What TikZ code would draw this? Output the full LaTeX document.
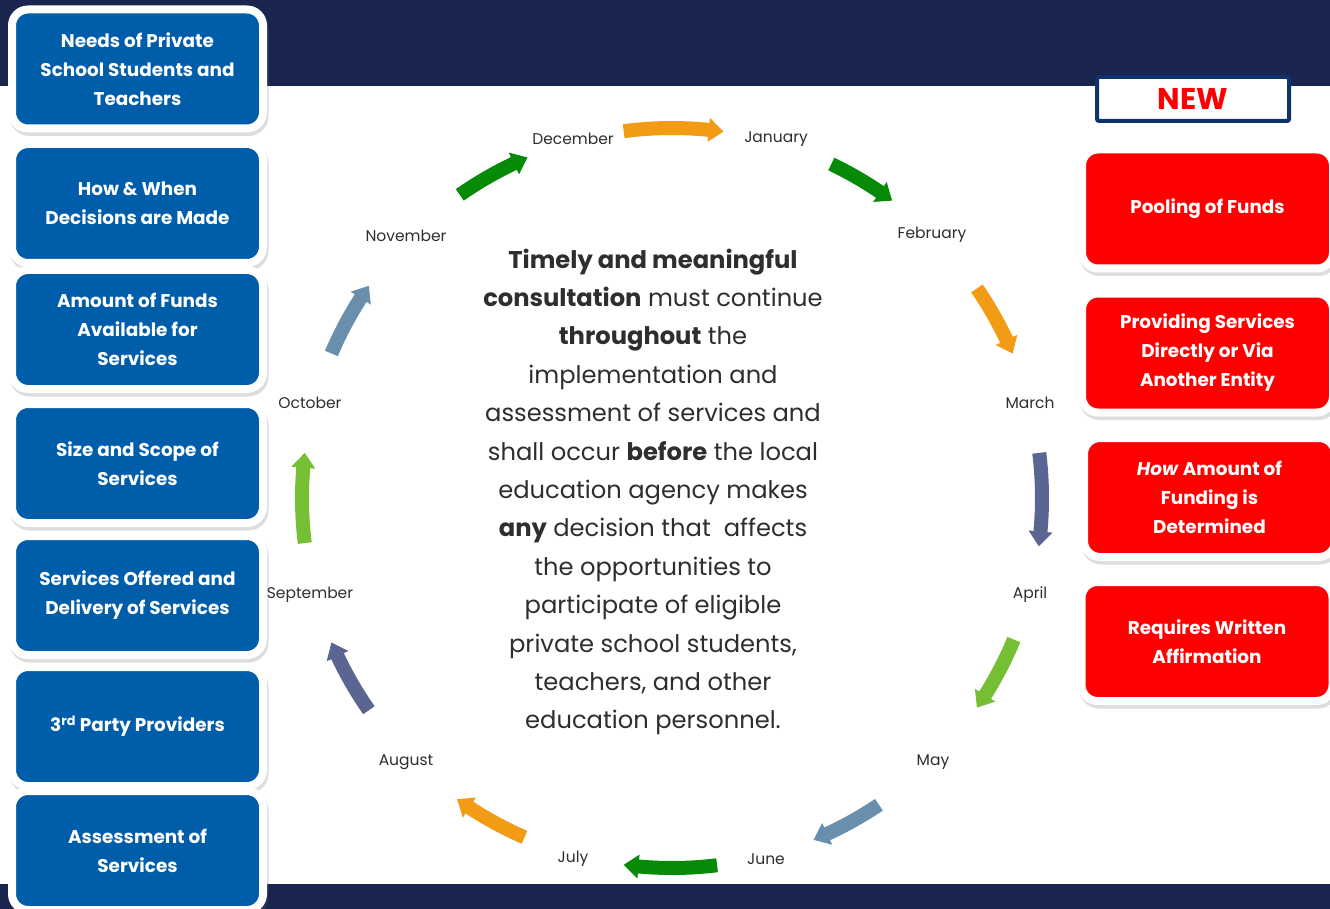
\documentclass[tikz,border=0pt]{standalone}
\usepackage{fontspec}
\setmainfont{Poppins}
\usetikzlibrary{shadows}
\definecolor{navy}{HTML}{19254F}
\definecolor{boxblue}{HTML}{005DAA}
\definecolor{boxred}{HTML}{FF0000}
\definecolor{newborder}{HTML}{10326A}
\definecolor{cgreen}{HTML}{078A07}
\definecolor{corange}{HTML}{F29B14}
\definecolor{cslate}{HTML}{5A6591}
\definecolor{clime}{HTML}{76BE33}
\definecolor{csteel}{HTML}{6A8FAD}
\definecolor{txtgray}{HTML}{2E2E2E}
\begin{document}
\begin{tikzpicture}[x=1pt,y=-1pt,
  cardbox/.style={rounded corners=16pt, draw=white, line width=8pt,
    minimum width=251pt, minimum height=119pt, inner sep=0pt,
    text=white, align=center, font=\bfseries\fontsize{18.4}{29}\selectfont,
    drop shadow={shadow xshift=1.5pt, shadow yshift=-3.5pt, opacity=0.22,
      fill=black!60, draw=black!60, line width=8pt}},
  lbox/.style={cardbox, fill=boxblue},
  rbox/.style={cardbox, fill=boxred},
  month/.style={text=txtgray, font=\fontsize{15.5}{19}\selectfont, inner sep=0pt},
  maintext/.style={text=txtgray, align=center, font=\fontsize{24.2}{38.4}\selectfont, inner sep=0pt},
  newbox/.style={draw=newborder, line width=4pt, fill=white, rounded corners=2pt,
    minimum width=192pt, minimum height=44pt, inner sep=0pt,
    text=boxred, font=\bfseries\fontsize{30}{32}\selectfont}
]
\useasboundingbox (0,0) rectangle (1330,909);
\clip (0,0) rectangle (1330,909);
\fill[white] (0,0) rectangle (1330,909);
\fill[navy] (0,0) rectangle (1330,86);
\fill[navy] (0,884) rectangle (1330,909);

\coordinate (C) at (672,498);

% curved arrows of the year cycle (visual start/end angles, clockwise)
\foreach \aa/\ab/\col in {125/113/cgreen, 97.5/82/corange, 64.5/53.5/cgreen,
    34.5/23/corange, 7/-7.5/cslate, -22.5/-34.5/clime, -56/-67.5/csteel,
    -83/-97.5/cgreen, -113.5/-125.5/corange, -145/-157/cslate,
    -173/-187/clime, 157/145/csteel} {
  \pgfmathsetmacro\pa{-(\aa)}
  \pgfmathsetmacro\pb{-(\ab)}
  \pgfmathsetmacro\ph{-(\ab+2.3)}
  \fill[\col, shift={(C)}] (\pa:377) arc[start angle=\pa, end angle=\ph, radius=377]
    -- (\ph:382) -- (\pb:370) -- (\ph:358) -- (\ph:363)
    arc[start angle=\ph, end angle=\pa, radius=363] -- cycle;
}

\node[month] (dec) at (573,139) {December};
\node[month] (jan) at (776,139) {January};
\node[month] (feb) at (932,235) {February};
\node[month] (mar) at (1030,403) {March};
\node[month] (apr) at (1030,595) {April};
\node[month] (may) at (933,762) {May};
\node[month] (jun) at (766,859) {June};
\node[month] (jul) at (573,859) {July};
\node[month] (aug) at (406,762) {August};
\node[month] (sep) at (310,595) {September};
\node[month] (oct) at (310,403) {October};
\node[month] (nov) at (406,236) {November};

\node[maintext] (center) at (653,492) {%
  \textbf{Timely and meaningful}\\
  \textbf{consultation} must continue\\
  \textbf{throughout} the\\
  implementation and\\
  assessment of services and\\
  shall occur \textbf{before} the local\\
  education agency makes\\
  \textbf{any} decision that\ \ affects\\
  the opportunities to\\
  participate of eligible\\
  private school students,\\
  teachers, and other\\
  education personnel.};

\node[lbox] (l1) at (137.5,69) {Needs of Private\\School Students and\\Teachers};
\node[lbox] (l2) at (137.5,203.5) {How \& When\\Decisions are Made};
\node[lbox] (l3) at (137.5,329.5) {Amount of Funds\\Available for\\Services};
\node[lbox] (l4) at (137.5,463.5) {Size and Scope of\\Services};
\node[lbox] (l5) at (137.5,595.5) {Services Offered and\\Delivery of Services};
\node[lbox] (l6) at (137.5,726.5) {3\textsuperscript{rd} Party Providers};
\node[lbox] (l7) at (137.5,850.5) {Assessment of\\Services};

\node[newbox] (new) at (1193,99) {NEW};

\node[rbox] (r1) at (1207.5,209) {Pooling of Funds};
\node[rbox] (r2) at (1207.5,353) {Providing Services\\Directly or Via\\Another Entity};
\node[rbox] (r3) at (1209.5,497.5) {\textit{How} Amount of\\Funding is\\Determined};
\node[rbox] (r4) at (1207,641.5) {Requires Written\\Affirmation};
\end{tikzpicture}
\end{document}
